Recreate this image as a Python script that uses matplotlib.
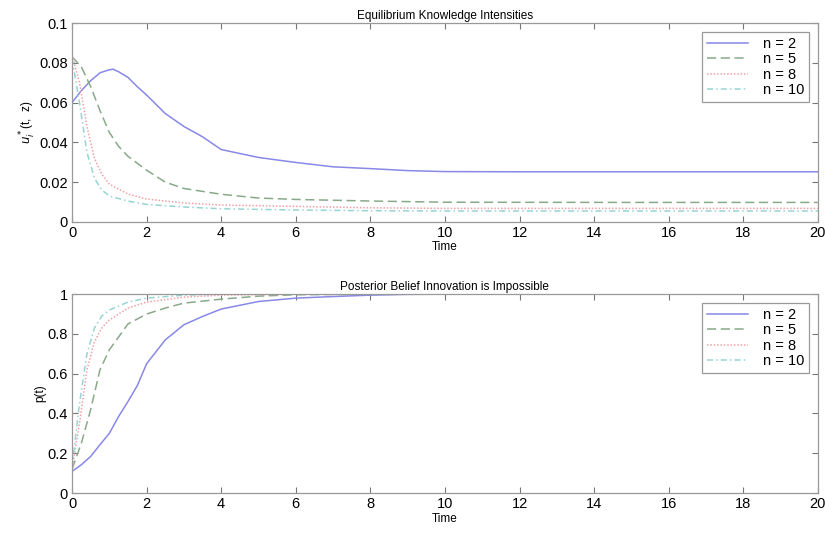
import matplotlib
matplotlib.use("Agg")
import matplotlib.pyplot as plt

plt.rcParams['font.family'] = ['Liberation Sans', 'DejaVu Sans']

# knowledge intensities u*_i(t, z)
t_n2 = [0, 0.25, 0.5, 0.75, 1.0, 1.1, 1.25, 1.5, 1.75, 2.0, 2.5, 3.0, 3.5, 4.0, 5.0, 6.0, 7.0, 8.0, 9.0, 10.0, 12.0, 15.0, 20.0]
u_n2 = [0.060, 0.066, 0.071, 0.075, 0.0765, 0.0768, 0.0755, 0.0727, 0.068, 0.0638, 0.0545, 0.048, 0.0428, 0.0364, 0.0324, 0.0299, 0.0277, 0.0268, 0.0258, 0.0253, 0.0252, 0.0252, 0.0252]

t_n5 = [0, 0.25, 0.5, 0.75, 1.0, 1.25, 1.5, 2.0, 2.5, 3.0, 4.0, 5.0, 6.0, 8.0, 10.0, 15.0, 20.0]
u_n5 = [0.083, 0.078, 0.068, 0.056, 0.045, 0.038, 0.033, 0.026, 0.020, 0.0168, 0.0139, 0.012, 0.0113, 0.0105, 0.0099, 0.0098, 0.0098]

t_n8 = [0, 0.2, 0.4, 0.6, 0.8, 1.0, 1.5, 2.0, 3.0, 4.0, 6.0, 8.0, 10.0, 15.0, 20.0]
u_n8 = [0.084, 0.070, 0.048, 0.032, 0.024, 0.019, 0.014, 0.0115, 0.0095, 0.0085, 0.0078, 0.0071, 0.0068, 0.0068, 0.0068]

t_n10 = [0, 0.2, 0.4, 0.6, 0.8, 1.0, 1.5, 2.0, 3.0, 4.0, 6.0, 8.0, 10.0, 15.0, 20.0]
u_n10 = [0.082, 0.060, 0.035, 0.022, 0.016, 0.013, 0.0105, 0.0088, 0.0075, 0.0066, 0.0060, 0.0056, 0.0055, 0.0055, 0.0055]

# posterior belief p(t)
pt_n2 = [0, 0.25, 0.5, 0.75, 1.0, 1.25, 1.5, 1.75, 2.0, 2.5, 3.0, 3.5, 4.0, 5.0, 6.0, 7.0, 8.0, 9.0, 10.0, 20.0]
p_n2 = [0.109, 0.142, 0.184, 0.243, 0.30, 0.385, 0.46, 0.54, 0.65, 0.77, 0.846, 0.888, 0.925, 0.963, 0.98, 0.988, 0.995, 0.999, 1.0, 1.0]

pt_n5 = [0, 0.25, 0.5, 0.75, 1.0, 1.5, 2.0, 2.5, 3.0, 4.0, 5.0, 6.0, 8.0, 20.0]
p_n5 = [0.12, 0.25, 0.42, 0.62, 0.72, 0.85, 0.90, 0.93, 0.955, 0.975, 0.99, 0.997, 1.0, 1.0]

pt_n8 = [0, 0.2, 0.4, 0.6, 0.8, 1.0, 1.5, 2.0, 3.0, 4.0, 6.0, 20.0]
p_n8 = [0.12, 0.35, 0.62, 0.76, 0.83, 0.87, 0.93, 0.96, 0.985, 0.995, 1.0, 1.0]

pt_n10 = [0, 0.2, 0.4, 0.6, 0.8, 1.0, 1.5, 2.0, 3.0, 4.0, 20.0]
p_n10 = [0.13, 0.45, 0.70, 0.83, 0.89, 0.92, 0.96, 0.98, 0.995, 1.0, 1.0]

labels = ['n = 2', 'n = 5', 'n = 8', 'n = 10']
colors = ['#8888e8', '#88aa88', '#f0a0a8', '#98d4d4']
styles = ['-', (0, (6, 3)), (0, (1, 1.2)), (0, (4, 2, 1, 2))]

fig = plt.figure(figsize=(8.25, 5.36), dpi=100)
ax1 = fig.add_axes([0.0873, 0.586, 0.904, 0.371])
ax2 = fig.add_axes([0.0873, 0.0802, 0.904, 0.371])


def style_axes(ax):
    ax.set_xlim(0, 20)
    ax.set_xticks(range(0, 21, 2))
    ax.tick_params(direction='in', top=True, right=True, length=4, width=0.8,
                   color='#777777', labelsize=10.5, pad=3)
    for s in ax.spines.values():
        s.set_color('#999999')
        s.set_linewidth(0.9)
    ax.set_xlabel('Time', fontsize=8.5, labelpad=1)


u_series = [(t_n2, u_n2), (t_n5, u_n5), (t_n8, u_n8), (t_n10, u_n10)]
for (t, u), c, ls, lab in zip(u_series, colors, styles, labels):
    ax1.plot(t, u, color=c, linestyle=ls, linewidth=1.1, label=lab)
ax1.set_ylim(0, 0.1)
ax1.set_yticks([0, 0.02, 0.04, 0.06, 0.08, 0.1])
ax1.set_yticklabels(['0', '0.02', '0.04', '0.06', '0.08', '0.1'])
ax1.set_ylabel(r'$u^*_i$(t,  z)', fontsize=8.5, labelpad=1)
ax1.set_title('Equilibrium Knowledge Intensities', fontsize=8.5, pad=3)
style_axes(ax1)

p_series = [(pt_n2, p_n2), (pt_n5, p_n5), (pt_n8, p_n8), (pt_n10, p_n10)]
for (t, p), c, ls, lab in zip(p_series, colors, styles, labels):
    ax2.plot(t, p, color=c, linestyle=ls, linewidth=1.1, label=lab)
ax2.set_ylim(0, 1)
ax2.set_yticks([0, 0.2, 0.4, 0.6, 0.8, 1])
ax2.set_yticklabels(['0', '0.2', '0.4', '0.6', '0.8', '1'])
ax2.set_ylabel('p(t)', fontsize=8.5, labelpad=1)
ax2.set_title('Posterior Belief Innovation is Impossible', fontsize=8.5, pad=3)
style_axes(ax2)

for ax in (ax1, ax2):
    leg = ax.legend(loc='upper right', fontsize=10.5, fancybox=False, framealpha=1,
                    handlelength=2.8, borderpad=0.35, labelspacing=0.1,
                    borderaxespad=0.6, handletextpad=1.0)
    leg.get_frame().set_edgecolor('#999999')
    leg.get_frame().set_linewidth(0.9)

fig.savefig('out.png', dpi=100)
